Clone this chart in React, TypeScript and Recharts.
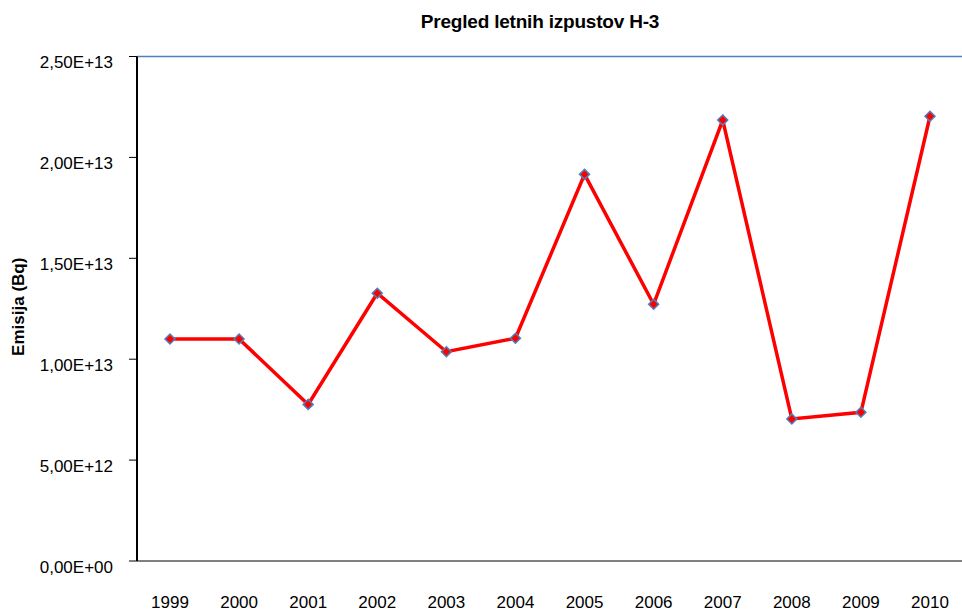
import React from 'react';
import { LineChart, Line, XAxis, YAxis, ReferenceLine } from 'recharts';

const years = ['1999', '2000', '2001', '2002', '2003', '2004', '2005', '2006', '2007', '2008', '2009', '2010'];
const emissions = [1.1e13, 1.1e13, 7.76e12, 1.327e13, 1.037e13, 1.104e13, 1.916e13, 1.272e13, 2.185e13, 7.04e12, 7.37e12, 2.204e13];
const yTicks = [0, 5e12, 1e13, 1.5e13, 2e13, 2.5e13];
const yTickLabels = ['0,00E+00', '5,00E+12', '1,00E+13', '1,50E+13', '2,00E+13', '2,50E+13'];
const title = 'Pregled letnih izpustov H-3';
const yAxisTitle = 'Emisija (Bq)';

const data = years.map((y, i) => ({ year: y, value: emissions[i] }));

const FONT = '"Liberation Sans", Arial, Helvetica, sans-serif';

const Diamond = (props: any) => {
  const { cx, cy, index } = props;
  if (cx == null || cy == null) return null;
  const r = 5;
  return (
    <polygon
      key={`d-${index}`}
      points={`${cx},${cy - r} ${cx + r},${cy} ${cx},${cy + r} ${cx - r},${cy}`}
      fill="#FF0000"
      stroke="#4F81BD"
      strokeWidth={1.5}
    />
  );
};

const YTick = (props: any) => {
  const { x, y, payload } = props;
  const idx = yTicks.indexOf(payload.value);
  return (
    <text x={x} y={y} dy={11.5} textAnchor="end" fontSize={17} fill="#000" fontFamily={FONT}>
      {idx >= 0 ? yTickLabels[idx] : ''}
    </text>
  );
};

const XTick = (props: any) => {
  const { x, y, payload } = props;
  return (
    <text x={x} y={y} dy={9} textAnchor="middle" fontSize={17} fill="#000" fontFamily={FONT}>
      {payload.value}
    </text>
  );
};

const YLabel = (props: any) => {
  const vb = props.viewBox || { x: 0, y: 56, width: 137, height: 505 };
  const cx = vb.x + 24;
  const cy = vb.y + vb.height / 2 - 2;
  return (
    <text
      x={cx}
      y={cy}
      transform={`rotate(-90, ${cx}, ${cy})`}
      textAnchor="middle"
      fontSize={17}
      fontWeight="bold"
      fill="#000"
      fontFamily={FONT}
    >
      {yAxisTitle}
    </text>
  );
};

export default function App() {
  return (
    <div style={{ position: 'fixed', left: 0, top: 0, width: 962, height: 612, overflow: 'hidden', background: '#fff' }}>
      <div
        style={{
          position: 'absolute',
          left: 0,
          top: 12,
          width: 1080,
          textAlign: 'center',
          fontFamily: FONT,
          fontWeight: 'bold',
          fontSize: 19,
          lineHeight: '19px',
          letterSpacing: -0.2,
          color: '#000',
        }}
      >
        {title}
      </div>
      <LineChart width={966} height={612} data={data} margin={{ top: 56.5, right: 0, bottom: 0, left: 0 }}>
        <XAxis
          dataKey="year"
          height={51}
          interval={0}
          padding={{ left: 33, right: 36 }}
          axisLine={{ stroke: '#808080', strokeWidth: 2 }}
          tickLine={false}
          tickSize={8}
          tickMargin={30}
          tick={<XTick />}
        />
        <YAxis
          width={137}
          domain={[0, 25e12]}
          ticks={yTicks}
          interval={0}
          axisLine={{ stroke: '#000', strokeWidth: 2 }}
          tickLine={{ stroke: '#000', strokeWidth: 1 }}
          tickSize={8}
          tickMargin={16}
          tick={<YTick />}
          label={<YLabel />}
        />
        <ReferenceLine y={25e12} stroke="#4F81BD" strokeWidth={1.5} ifOverflow="visible" />
        <Line
          type="linear"
          dataKey="value"
          stroke="#FF0000"
          strokeWidth={3.5}
          dot={<Diamond />}
          activeDot={false}
          isAnimationActive={false}
        />
      </LineChart>
    </div>
  );
}
